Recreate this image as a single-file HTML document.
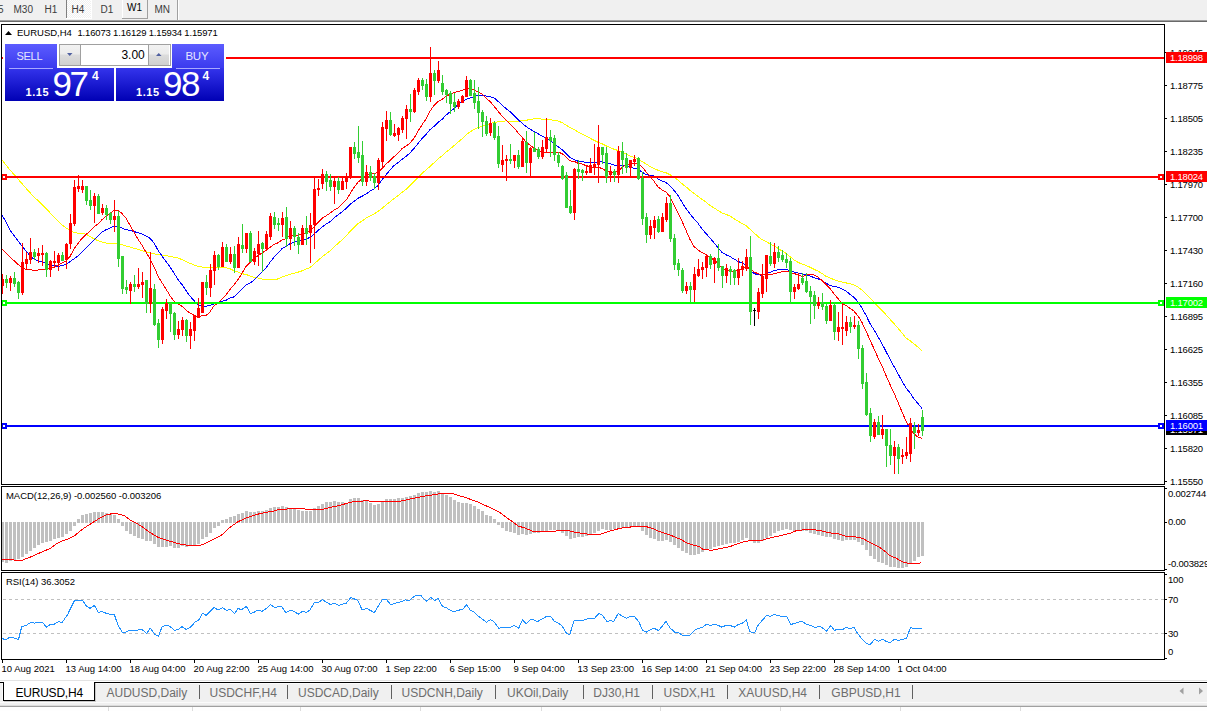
<!DOCTYPE html><html><head><meta charset="utf-8"><style>
html,body{margin:0;padding:0;background:#fff;}body{width:1207px;height:711px;overflow:hidden;position:relative;font-family:"Liberation Sans",sans-serif;}
svg{position:absolute;left:0;top:0;display:block}
.t{font-family:"Liberation Sans",sans-serif;font-size:10px;fill:#000}.ax{letter-spacing:-0.2px;font-size:9.5px}.tm{letter-spacing:0px;font-size:9.5px}.hd{letter-spacing:0px;font-size:9.5px}.hd2{letter-spacing:-0.17px;font-size:9.5px}.lb{letter-spacing:-0.05px;font-size:9.5px}
</style></head><body>
<svg width="1207" height="711" viewBox="0 0 1207 711">
<defs><pattern id="chk" width="2" height="2" patternUnits="userSpaceOnUse"><rect width="2" height="2" fill="#f0f0f0"/><rect width="1" height="1" fill="#fff"/><rect x="1" y="1" width="1" height="1" fill="#fff"/></pattern>
<linearGradient id="tabg" x1="0" y1="0" x2="0" y2="1"><stop offset="0" stop-color="#5c5cff"/><stop offset="1" stop-color="#3a3aee"/></linearGradient>
<linearGradient id="boxg" x1="0" y1="0" x2="0" y2="1"><stop offset="0" stop-color="#3434ec"/><stop offset="1" stop-color="#0000b4"/></linearGradient>
<linearGradient id="spin" x1="0" y1="0" x2="0" y2="1"><stop offset="0" stop-color="#f2f2f2"/><stop offset="0.45" stop-color="#ebebeb"/><stop offset="0.5" stop-color="#dcdcdc"/><stop offset="1" stop-color="#d0d0d0"/></linearGradient>
</defs>
<rect x="0" y="0" width="1207" height="711" fill="#fff"/>
<g shape-rendering="crispEdges">
<rect x="0" y="0" width="1207" height="20" fill="#f0f0f0"/>
<rect x="0" y="20" width="1207" height="1" fill="#a0a0a0"/>
<rect x="0" y="21" width="1207" height="1" fill="#696969"/>
<rect x="67" y="0" width="24" height="18" fill="url(#chk)"/>
<rect x="66" y="0" width="1" height="18" fill="#808080"/>
<rect x="66" y="18" width="26" height="1" fill="#fff"/>
<rect x="91" y="0" width="1" height="18" fill="#fff"/>
<rect x="122" y="0" width="1" height="18" fill="#fff"/>
<rect x="147" y="0" width="1" height="19" fill="#a0a0a0"/>
<rect x="122" y="18" width="26" height="1" fill="#a0a0a0"/>
<rect x="177" y="0" width="1" height="20" fill="#a0a0a0"/>
<rect x="178" y="0" width="1" height="20" fill="#fff"/>
</g>
<text class="t" x="-2" y="12.5" style="fill:#3c3c3c;font-size:10px">5</text>
<text class="t" x="13.5" y="12.5" style="fill:#3c3c3c;font-size:10px">M30</text>
<text class="t" x="44.5" y="12.5" style="fill:#3c3c3c;font-size:10px">H1</text>
<text class="t" x="71.5" y="12.5" style="fill:#3c3c3c;font-size:10px">H4</text>
<text class="t" x="100.5" y="12.5" style="fill:#3c3c3c;font-size:10px">D1</text>
<text class="t" x="154.5" y="12.5" style="fill:#3c3c3c;font-size:10px">MN</text>
<text class="t" x="127" y="11" style="fill:#000;font-size:10px">W1</text>
<g shape-rendering="crispEdges" fill="none" stroke="#000" stroke-width="1">
<rect x="1.5" y="24.5" width="1163" height="460"/>
<rect x="1.5" y="486.5" width="1163" height="84"/>
<rect x="1.5" y="572.5" width="1163" height="87"/>
</g>
<g fill="none" stroke-width="1" shape-rendering="crispEdges">
<polyline points="2.0,160.0 6.0,165.0 10.0,170.0 14.0,174.5 18.0,179.1 22.0,183.6 26.0,188.2 30.0,192.7 34.0,196.9 38.0,200.6 42.0,204.5 46.0,208.6 50.0,212.7 54.0,216.8 58.0,220.9 62.0,225.0 66.0,227.9 70.0,230.3 74.0,232.8 78.0,233.1 82.0,233.4 86.0,234.2 90.0,236.5 94.0,238.8 98.0,240.7 102.0,242.0 106.0,243.1 110.0,243.5 114.0,243.8 118.0,244.1 122.0,244.8 126.0,245.9 130.0,247.0 134.0,248.2 138.0,249.4 142.0,250.6 146.0,251.8 150.0,253.0 154.0,253.8 158.0,254.4 162.0,255.2 166.0,255.7 170.0,256.3 174.0,257.2 178.0,258.1 182.0,259.6 186.0,261.5 190.0,263.4 194.0,264.9 198.0,266.3 202.0,267.0 206.0,267.5 210.0,267.7 214.0,267.5 218.0,267.8 222.0,267.5 226.0,267.9 230.0,268.7 234.0,270.7 238.0,272.1 242.0,273.7 246.0,274.5 250.0,275.9 254.0,277.3 258.0,278.1 262.0,279.1 266.0,279.6 270.0,279.5 274.0,279.7 278.0,278.9 282.0,277.1 286.0,275.8 290.0,274.4 294.0,273.2 298.0,272.2 302.0,270.8 306.0,269.1 310.0,267.5 314.0,264.1 318.0,260.4 322.0,257.0 326.0,253.9 330.0,250.8 334.0,247.0 338.0,243.5 342.0,240.0 346.0,236.0 350.0,231.5 354.0,227.4 358.0,223.6 362.0,221.1 366.0,218.2 370.0,215.9 374.0,214.1 378.0,211.4 382.0,208.4 386.0,204.9 390.0,201.9 394.0,198.6 398.0,195.7 402.0,192.4 406.0,189.4 410.0,185.6 414.0,181.6 418.0,177.5 422.0,173.4 426.0,170.0 430.0,166.4 434.0,162.8 438.0,158.9 442.0,155.8 446.0,152.2 450.0,149.0 454.0,145.7 458.0,142.2 462.0,138.9 466.0,135.1 470.0,131.8 474.0,129.6 478.0,127.7 482.0,126.4 486.0,125.2 490.0,123.6 494.0,122.5 498.0,121.9 502.0,121.4 506.0,120.9 510.0,121.2 514.0,121.3 518.0,121.5 522.0,120.5 526.0,120.3 530.0,119.5 534.0,118.8 538.0,118.6 542.0,119.1 546.0,119.6 550.0,119.7 554.0,120.2 558.0,121.1 562.0,122.6 566.0,125.0 570.0,127.5 574.0,129.5 578.0,131.8 582.0,134.0 586.0,135.9 590.0,138.2 594.0,140.3 598.0,142.2 602.0,143.8 606.0,145.8 610.0,147.5 614.0,149.2 618.0,150.5 622.0,152.1 626.0,154.2 630.0,155.9 634.0,157.3 638.0,158.9 642.0,161.4 646.0,163.9 650.0,166.4 654.0,168.5 658.0,170.2 662.0,171.7 666.0,172.8 670.0,174.7 674.0,177.4 678.0,180.0 682.0,183.7 686.0,186.8 690.0,190.3 694.0,193.4 698.0,196.3 702.0,199.3 706.0,202.2 710.0,205.3 714.0,207.9 718.0,210.5 722.0,212.9 726.0,214.5 730.0,215.9 734.0,218.6 738.0,221.1 742.0,223.5 746.0,225.6 750.0,229.2 754.0,232.9 758.0,236.5 762.0,239.6 766.0,241.6 770.0,243.9 774.0,245.8 778.0,248.4 782.0,250.9 786.0,253.3 790.0,256.6 794.0,259.8 798.0,262.4 802.0,264.0 806.0,265.5 810.0,267.2 814.0,269.3 818.0,271.1 822.0,273.4 826.0,276.3 830.0,277.9 834.0,279.6 838.0,281.1 842.0,282.0 846.0,282.9 850.0,283.8 854.0,285.1 858.0,287.1 862.0,290.0 866.0,293.9 870.0,298.2 874.0,302.3 878.0,306.5 882.0,310.3 886.0,314.7 890.0,319.3 894.0,323.6 898.0,328.3 902.0,333.0 906.0,337.9 910.0,340.7 914.0,343.8 918.0,347.2 922.0,351.0" stroke="#ffff00"/>
<polyline points="2.0,215.0 6.0,222.0 10.0,230.0 14.0,235.4 18.0,240.9 22.0,246.3 26.0,250.9 30.0,255.6 34.0,259.2 38.0,260.6 42.0,261.9 46.0,263.3 50.0,264.7 54.0,265.5 58.0,266.3 62.0,265.7 66.0,264.5 70.0,261.7 74.0,258.8 78.0,256.0 82.0,252.1 86.0,247.9 90.0,243.8 94.0,239.8 98.0,236.1 102.0,232.2 106.0,229.8 110.0,227.9 114.0,226.2 118.0,226.3 122.0,228.0 126.0,229.7 130.0,230.4 134.0,231.6 138.0,232.7 142.0,234.0 146.0,236.1 150.0,238.2 154.0,243.0 158.0,250.2 162.0,256.1 166.0,261.6 170.0,267.0 174.0,273.1 178.0,279.5 182.0,284.6 186.0,290.6 190.0,296.1 194.0,300.7 198.0,305.1 202.0,306.3 206.0,306.3 210.0,305.3 214.0,304.0 218.0,303.0 222.0,301.3 226.0,300.3 230.0,297.9 234.0,296.9 238.0,293.1 242.0,288.8 246.0,285.1 250.0,283.1 254.0,280.2 258.0,276.0 262.0,272.1 266.0,268.0 270.0,262.3 274.0,257.3 278.0,253.0 282.0,248.7 286.0,246.5 290.0,243.7 294.0,242.1 298.0,241.5 302.0,239.7 306.0,239.0 310.0,237.4 314.0,234.2 318.0,230.5 322.0,227.2 326.0,224.0 330.0,221.8 334.0,218.0 338.0,215.0 342.0,212.0 346.0,208.6 350.0,204.5 354.0,201.5 358.0,198.3 362.0,196.3 366.0,194.1 370.0,191.2 374.0,189.0 378.0,185.4 382.0,179.8 386.0,174.7 390.0,170.0 394.0,165.6 398.0,162.7 402.0,159.4 406.0,156.3 410.0,153.0 414.0,148.4 418.0,143.6 422.0,138.6 426.0,134.6 430.0,129.6 434.0,126.4 438.0,122.5 442.0,119.4 446.0,115.2 450.0,111.9 454.0,108.5 458.0,104.6 462.0,101.6 466.0,99.3 470.0,98.1 474.0,96.6 478.0,95.6 482.0,95.3 486.0,96.0 490.0,96.6 494.0,97.8 498.0,101.3 502.0,105.1 506.0,108.6 510.0,111.7 514.0,115.6 518.0,119.7 522.0,123.1 526.0,126.5 530.0,129.1 534.0,131.4 538.0,133.7 542.0,135.9 546.0,137.9 550.0,140.7 554.0,143.6 558.0,146.5 562.0,149.6 566.0,153.7 570.0,157.4 574.0,159.6 578.0,161.2 582.0,161.7 586.0,162.2 590.0,162.5 594.0,162.7 598.0,162.3 602.0,161.7 606.0,163.4 610.0,163.8 614.0,165.1 618.0,165.1 622.0,165.2 626.0,166.2 630.0,167.3 634.0,168.2 638.0,169.3 642.0,171.9 646.0,174.6 650.0,175.5 654.0,175.9 658.0,178.8 662.0,181.0 666.0,182.5 670.0,185.7 674.0,190.4 678.0,195.4 682.0,202.2 686.0,208.5 690.0,213.9 694.0,218.8 698.0,223.3 702.0,228.8 706.0,233.5 710.0,238.1 714.0,242.7 718.0,247.8 722.0,252.4 726.0,254.8 730.0,256.6 734.0,259.0 738.0,261.4 742.0,263.1 746.0,265.0 750.0,270.1 754.0,273.5 758.0,274.8 762.0,275.2 766.0,273.6 770.0,272.4 774.0,270.7 778.0,269.9 782.0,269.4 786.0,269.1 790.0,270.8 794.0,271.9 798.0,273.1 802.0,273.9 806.0,274.7 810.0,276.0 814.0,277.6 818.0,278.8 822.0,280.6 826.0,283.1 830.0,285.4 834.0,286.4 838.0,287.2 842.0,288.9 846.0,291.0 850.0,294.4 854.0,297.3 858.0,301.9 862.0,307.9 866.0,315.3 870.0,323.5 874.0,329.8 878.0,336.8 882.0,343.7 886.0,351.4 890.0,359.2 894.0,366.4 898.0,373.7 902.0,381.0 906.0,387.9 910.0,392.8 914.0,398.9 918.0,403.6 922.0,408.5" stroke="#0000ff"/>
<polyline points="2.0,248.9 6.0,252.9 10.0,256.8 14.0,260.7 18.0,264.4 22.0,267.5 26.0,269.4 30.0,269.8 34.0,270.2 38.0,270.0 42.0,269.7 46.0,269.3 50.0,268.2 54.0,266.9 58.0,265.1 62.0,263.2 66.0,260.8 70.0,256.5 74.0,249.0 78.0,243.5 82.0,238.4 86.0,234.6 90.0,231.0 94.0,226.9 98.0,224.0 102.0,219.7 106.0,216.4 110.0,213.3 114.0,210.5 118.0,210.3 122.0,213.5 126.0,218.3 130.0,225.2 134.0,232.3 138.0,239.3 142.0,245.2 146.0,252.2 150.0,258.8 154.0,266.7 158.0,276.0 162.0,282.8 166.0,288.9 170.0,295.8 174.0,301.2 178.0,304.1 182.0,306.3 186.0,310.0 190.0,313.1 194.0,315.3 198.0,317.2 202.0,315.7 206.0,315.7 210.0,311.8 214.0,305.9 218.0,302.8 222.0,298.8 226.0,295.1 230.0,289.4 234.0,284.9 238.0,279.5 242.0,273.3 246.0,266.4 250.0,262.5 254.0,258.4 258.0,255.7 262.0,252.9 266.0,250.3 270.0,247.4 274.0,244.4 278.0,242.8 282.0,239.8 286.0,238.6 290.0,235.9 294.0,235.3 298.0,235.0 302.0,234.7 306.0,232.7 310.0,230.8 314.0,226.9 318.0,222.6 322.0,218.3 326.0,215.9 330.0,213.2 334.0,210.1 338.0,208.0 342.0,203.9 346.0,200.3 350.0,193.9 354.0,187.4 358.0,182.3 362.0,178.7 366.0,174.9 370.0,174.0 374.0,173.6 378.0,172.6 382.0,168.7 386.0,164.0 390.0,160.7 394.0,156.7 398.0,152.9 402.0,148.7 406.0,146.0 410.0,143.1 414.0,138.3 418.0,131.1 422.0,124.8 426.0,119.0 430.0,111.2 434.0,105.5 438.0,101.4 442.0,99.3 446.0,96.4 450.0,94.2 454.0,92.6 458.0,91.4 462.0,90.5 466.0,88.3 470.0,88.6 474.0,90.1 478.0,92.1 482.0,94.0 486.0,98.2 490.0,101.3 494.0,106.1 498.0,111.2 502.0,115.9 506.0,120.0 510.0,123.9 514.0,127.8 518.0,132.7 522.0,137.1 526.0,141.9 530.0,145.2 534.0,147.9 538.0,150.4 542.0,151.4 546.0,152.4 550.0,152.6 554.0,152.0 558.0,152.2 562.0,153.5 566.0,156.8 570.0,160.9 574.0,161.2 578.0,163.3 582.0,164.0 586.0,165.6 590.0,166.7 594.0,167.3 598.0,167.3 602.0,168.4 606.0,171.0 610.0,172.2 614.0,173.1 618.0,171.2 622.0,167.7 626.0,164.5 630.0,163.9 634.0,163.0 638.0,163.5 642.0,166.8 646.0,171.7 650.0,176.1 654.0,181.3 658.0,186.8 662.0,189.8 666.0,192.1 670.0,196.6 674.0,204.7 678.0,212.6 682.0,221.3 686.0,230.3 690.0,239.6 694.0,246.4 698.0,250.1 702.0,252.5 706.0,254.6 710.0,257.8 714.0,259.7 718.0,263.2 722.0,268.3 726.0,270.5 730.0,271.0 734.0,271.5 738.0,270.1 742.0,268.7 746.0,266.4 750.0,269.0 754.0,271.9 758.0,273.7 762.0,275.2 766.0,274.6 770.0,274.9 774.0,273.8 778.0,272.6 782.0,271.9 786.0,271.3 790.0,272.3 794.0,273.5 798.0,274.8 802.0,276.6 806.0,275.2 810.0,274.2 814.0,275.1 818.0,277.0 822.0,280.6 826.0,284.7 830.0,288.5 834.0,293.8 838.0,298.6 842.0,303.3 846.0,305.5 850.0,308.3 854.0,311.2 858.0,316.0 862.0,322.5 866.0,330.9 870.0,340.2 874.0,348.7 878.0,357.8 882.0,365.6 886.0,375.6 890.0,384.5 894.0,393.0 898.0,402.3 902.0,411.9 906.0,420.9 910.0,427.9 914.0,433.9 918.0,437.2 922.0,438.4" stroke="#ff0000"/>
</g>
<g shape-rendering="crispEdges">
<rect x="2" y="57" width="1162" height="2" fill="#ff0000"/>
<rect x="2" y="176" width="1162" height="2" fill="#ff0000"/>
<rect x="2" y="302" width="1162" height="2" fill="#00ff00"/>
<rect x="2" y="425" width="1162" height="2" fill="#0000ff"/>
<rect x="1" y="174" width="6" height="6" fill="#ff0000"/><rect x="3" y="176" width="2" height="2" fill="#fff"/>
<rect x="1158" y="174" width="6" height="6" fill="#ff0000"/><rect x="1160" y="176" width="2" height="2" fill="#fff"/>
<rect x="1" y="300" width="6" height="6" fill="#00ff00"/><rect x="3" y="302" width="2" height="2" fill="#fff"/>
<rect x="1158" y="300" width="6" height="6" fill="#00ff00"/><rect x="1160" y="302" width="2" height="2" fill="#fff"/>
<rect x="1" y="423" width="6" height="6" fill="#0000ff"/><rect x="3" y="425" width="2" height="2" fill="#fff"/>
<rect x="1158" y="423" width="6" height="6" fill="#0000ff"/><rect x="1160" y="425" width="2" height="2" fill="#fff"/>
</g>
<g shape-rendering="crispEdges">
<rect x="2" y="274" width="1" height="20" fill="#ff0000"/>
<rect x="1" y="279" width="3" height="7" fill="#ff0000"/>
<rect x="6" y="275" width="1" height="13" fill="#32cd32"/>
<rect x="5" y="279" width="3" height="4" fill="#32cd32"/>
<rect x="10" y="276" width="1" height="15" fill="#ff0000"/>
<rect x="9" y="278" width="3" height="5" fill="#ff0000"/>
<rect x="14" y="272" width="1" height="15" fill="#32cd32"/>
<rect x="13" y="278" width="3" height="6" fill="#32cd32"/>
<rect x="18" y="281" width="1" height="18" fill="#32cd32"/>
<rect x="17" y="282" width="3" height="11" fill="#32cd32"/>
<rect x="22" y="243" width="1" height="52" fill="#ff0000"/>
<rect x="21" y="262" width="3" height="31" fill="#ff0000"/>
<rect x="26" y="252" width="1" height="18" fill="#ff0000"/>
<rect x="25" y="259" width="3" height="5" fill="#ff0000"/>
<rect x="30" y="238" width="1" height="26" fill="#ff0000"/>
<rect x="29" y="252" width="3" height="8" fill="#ff0000"/>
<rect x="34" y="249" width="1" height="11" fill="#32cd32"/>
<rect x="33" y="252" width="3" height="5" fill="#32cd32"/>
<rect x="38" y="248" width="1" height="15" fill="#ff0000"/>
<rect x="37" y="253" width="3" height="3" fill="#ff0000"/>
<rect x="42" y="245" width="1" height="21" fill="#ff0000"/>
<rect x="41" y="253" width="3" height="2" fill="#ff0000"/>
<rect x="46" y="252" width="1" height="25" fill="#32cd32"/>
<rect x="45" y="253" width="3" height="17" fill="#32cd32"/>
<rect x="50" y="260" width="1" height="17" fill="#ff0000"/>
<rect x="49" y="261" width="3" height="9" fill="#ff0000"/>
<rect x="54" y="251" width="1" height="17" fill="#ff0000"/>
<rect x="53" y="261" width="3" height="2" fill="#ff0000"/>
<rect x="58" y="253" width="1" height="18" fill="#ff0000"/>
<rect x="57" y="255" width="3" height="8" fill="#ff0000"/>
<rect x="62" y="252" width="1" height="9" fill="#32cd32"/>
<rect x="61" y="255" width="3" height="6" fill="#32cd32"/>
<rect x="66" y="243" width="1" height="26" fill="#ff0000"/>
<rect x="65" y="244" width="3" height="16" fill="#ff0000"/>
<rect x="70" y="214" width="1" height="35" fill="#ff0000"/>
<rect x="69" y="223" width="3" height="21" fill="#ff0000"/>
<rect x="74" y="180" width="1" height="46" fill="#ff0000"/>
<rect x="73" y="187" width="3" height="37" fill="#ff0000"/>
<rect x="78" y="175" width="1" height="17" fill="#ff0000"/>
<rect x="77" y="186" width="3" height="3" fill="#ff0000"/>
<rect x="82" y="180" width="1" height="13" fill="#ff0000"/>
<rect x="81" y="186" width="3" height="4" fill="#ff0000"/>
<rect x="86" y="186" width="1" height="19" fill="#32cd32"/>
<rect x="85" y="186" width="3" height="15" fill="#32cd32"/>
<rect x="90" y="190" width="1" height="20" fill="#32cd32"/>
<rect x="89" y="200" width="3" height="6" fill="#32cd32"/>
<rect x="94" y="193" width="1" height="30" fill="#ff0000"/>
<rect x="93" y="196" width="3" height="10" fill="#ff0000"/>
<rect x="98" y="194" width="1" height="20" fill="#32cd32"/>
<rect x="97" y="196" width="3" height="18" fill="#32cd32"/>
<rect x="102" y="204" width="1" height="11" fill="#ff0000"/>
<rect x="101" y="208" width="3" height="5" fill="#ff0000"/>
<rect x="106" y="205" width="1" height="15" fill="#32cd32"/>
<rect x="105" y="208" width="3" height="7" fill="#32cd32"/>
<rect x="110" y="212" width="1" height="12" fill="#32cd32"/>
<rect x="109" y="213" width="3" height="7" fill="#32cd32"/>
<rect x="114" y="200" width="1" height="32" fill="#ff0000"/>
<rect x="113" y="216" width="3" height="4" fill="#ff0000"/>
<rect x="118" y="211" width="1" height="56" fill="#32cd32"/>
<rect x="117" y="216" width="3" height="43" fill="#32cd32"/>
<rect x="122" y="256" width="1" height="38" fill="#32cd32"/>
<rect x="121" y="256" width="3" height="33" fill="#32cd32"/>
<rect x="126" y="280" width="1" height="14" fill="#32cd32"/>
<rect x="125" y="287" width="3" height="3" fill="#32cd32"/>
<rect x="130" y="282" width="1" height="22" fill="#ff0000"/>
<rect x="129" y="284" width="3" height="7" fill="#ff0000"/>
<rect x="134" y="275" width="1" height="17" fill="#32cd32"/>
<rect x="133" y="284" width="3" height="3" fill="#32cd32"/>
<rect x="138" y="268" width="1" height="21" fill="#ff0000"/>
<rect x="137" y="284" width="3" height="3" fill="#ff0000"/>
<rect x="142" y="272" width="1" height="26" fill="#ff0000"/>
<rect x="141" y="282" width="3" height="3" fill="#ff0000"/>
<rect x="146" y="280" width="1" height="33" fill="#32cd32"/>
<rect x="145" y="280" width="3" height="24" fill="#32cd32"/>
<rect x="150" y="252" width="1" height="61" fill="#ff0000"/>
<rect x="149" y="288" width="3" height="16" fill="#ff0000"/>
<rect x="154" y="284" width="1" height="42" fill="#32cd32"/>
<rect x="153" y="289" width="3" height="36" fill="#32cd32"/>
<rect x="158" y="319" width="1" height="29" fill="#32cd32"/>
<rect x="157" y="323" width="3" height="17" fill="#32cd32"/>
<rect x="162" y="307" width="1" height="37" fill="#ff0000"/>
<rect x="161" y="309" width="3" height="31" fill="#ff0000"/>
<rect x="166" y="299" width="1" height="20" fill="#ff0000"/>
<rect x="165" y="303" width="3" height="8" fill="#ff0000"/>
<rect x="170" y="303" width="1" height="29" fill="#32cd32"/>
<rect x="169" y="303" width="3" height="11" fill="#32cd32"/>
<rect x="174" y="312" width="1" height="28" fill="#32cd32"/>
<rect x="173" y="313" width="3" height="22" fill="#32cd32"/>
<rect x="178" y="321" width="1" height="18" fill="#ff0000"/>
<rect x="177" y="329" width="3" height="6" fill="#ff0000"/>
<rect x="182" y="317" width="1" height="19" fill="#ff0000"/>
<rect x="181" y="320" width="3" height="10" fill="#ff0000"/>
<rect x="186" y="319" width="1" height="23" fill="#32cd32"/>
<rect x="185" y="320" width="3" height="16" fill="#32cd32"/>
<rect x="190" y="322" width="1" height="27" fill="#ff0000"/>
<rect x="189" y="329" width="3" height="7" fill="#ff0000"/>
<rect x="194" y="315" width="1" height="26" fill="#ff0000"/>
<rect x="193" y="315" width="3" height="16" fill="#ff0000"/>
<rect x="198" y="298" width="1" height="20" fill="#ff0000"/>
<rect x="197" y="308" width="3" height="10" fill="#ff0000"/>
<rect x="202" y="282" width="1" height="31" fill="#ff0000"/>
<rect x="201" y="282" width="3" height="31" fill="#ff0000"/>
<rect x="206" y="275" width="1" height="20" fill="#32cd32"/>
<rect x="205" y="282" width="3" height="6" fill="#32cd32"/>
<rect x="210" y="264" width="1" height="33" fill="#ff0000"/>
<rect x="209" y="270" width="3" height="18" fill="#ff0000"/>
<rect x="214" y="251" width="1" height="34" fill="#ff0000"/>
<rect x="213" y="255" width="3" height="16" fill="#ff0000"/>
<rect x="218" y="254" width="1" height="16" fill="#32cd32"/>
<rect x="217" y="255" width="3" height="12" fill="#32cd32"/>
<rect x="222" y="242" width="1" height="25" fill="#ff0000"/>
<rect x="221" y="247" width="3" height="20" fill="#ff0000"/>
<rect x="226" y="244" width="1" height="18" fill="#32cd32"/>
<rect x="225" y="247" width="3" height="15" fill="#32cd32"/>
<rect x="230" y="247" width="1" height="17" fill="#ff0000"/>
<rect x="229" y="254" width="3" height="8" fill="#ff0000"/>
<rect x="234" y="246" width="1" height="27" fill="#32cd32"/>
<rect x="233" y="254" width="3" height="14" fill="#32cd32"/>
<rect x="238" y="237" width="1" height="31" fill="#ff0000"/>
<rect x="237" y="244" width="3" height="24" fill="#ff0000"/>
<rect x="242" y="224" width="1" height="29" fill="#32cd32"/>
<rect x="241" y="245" width="3" height="4" fill="#32cd32"/>
<rect x="246" y="233" width="1" height="20" fill="#ff0000"/>
<rect x="245" y="233" width="3" height="16" fill="#ff0000"/>
<rect x="250" y="231" width="1" height="31" fill="#32cd32"/>
<rect x="249" y="233" width="3" height="29" fill="#32cd32"/>
<rect x="254" y="248" width="1" height="17" fill="#ff0000"/>
<rect x="253" y="251" width="3" height="11" fill="#ff0000"/>
<rect x="258" y="231" width="1" height="35" fill="#ff0000"/>
<rect x="257" y="244" width="3" height="10" fill="#ff0000"/>
<rect x="262" y="242" width="1" height="30" fill="#32cd32"/>
<rect x="261" y="243" width="3" height="6" fill="#32cd32"/>
<rect x="266" y="231" width="1" height="19" fill="#ff0000"/>
<rect x="265" y="234" width="3" height="15" fill="#ff0000"/>
<rect x="270" y="213" width="1" height="27" fill="#ff0000"/>
<rect x="269" y="216" width="3" height="21" fill="#ff0000"/>
<rect x="274" y="212" width="1" height="17" fill="#32cd32"/>
<rect x="273" y="217" width="3" height="8" fill="#32cd32"/>
<rect x="278" y="218" width="1" height="13" fill="#32cd32"/>
<rect x="277" y="223" width="3" height="2" fill="#32cd32"/>
<rect x="282" y="212" width="1" height="25" fill="#ff0000"/>
<rect x="281" y="218" width="3" height="7" fill="#ff0000"/>
<rect x="286" y="207" width="1" height="40" fill="#32cd32"/>
<rect x="285" y="217" width="3" height="22" fill="#32cd32"/>
<rect x="290" y="221" width="1" height="29" fill="#ff0000"/>
<rect x="289" y="228" width="3" height="11" fill="#ff0000"/>
<rect x="294" y="226" width="1" height="20" fill="#32cd32"/>
<rect x="293" y="228" width="3" height="9" fill="#32cd32"/>
<rect x="298" y="233" width="1" height="21" fill="#32cd32"/>
<rect x="297" y="237" width="3" height="8" fill="#32cd32"/>
<rect x="302" y="225" width="1" height="20" fill="#ff0000"/>
<rect x="301" y="228" width="3" height="17" fill="#ff0000"/>
<rect x="306" y="216" width="1" height="29" fill="#32cd32"/>
<rect x="305" y="228" width="3" height="6" fill="#32cd32"/>
<rect x="310" y="213" width="1" height="50" fill="#ff0000"/>
<rect x="309" y="225" width="3" height="8" fill="#ff0000"/>
<rect x="314" y="178" width="1" height="71" fill="#ff0000"/>
<rect x="313" y="189" width="3" height="36" fill="#ff0000"/>
<rect x="318" y="179" width="1" height="17" fill="#ff0000"/>
<rect x="317" y="188" width="3" height="2" fill="#ff0000"/>
<rect x="322" y="169" width="1" height="20" fill="#ff0000"/>
<rect x="321" y="174" width="3" height="10" fill="#ff0000"/>
<rect x="326" y="171" width="1" height="20" fill="#32cd32"/>
<rect x="325" y="174" width="3" height="8" fill="#32cd32"/>
<rect x="330" y="174" width="1" height="17" fill="#32cd32"/>
<rect x="329" y="180" width="3" height="7" fill="#32cd32"/>
<rect x="334" y="178" width="1" height="26" fill="#ff0000"/>
<rect x="333" y="181" width="3" height="6" fill="#ff0000"/>
<rect x="338" y="177" width="1" height="17" fill="#32cd32"/>
<rect x="337" y="181" width="3" height="9" fill="#32cd32"/>
<rect x="342" y="178" width="1" height="12" fill="#ff0000"/>
<rect x="341" y="181" width="3" height="9" fill="#ff0000"/>
<rect x="346" y="173" width="1" height="16" fill="#ff0000"/>
<rect x="345" y="177" width="3" height="5" fill="#ff0000"/>
<rect x="350" y="147" width="1" height="32" fill="#ff0000"/>
<rect x="349" y="147" width="3" height="31" fill="#ff0000"/>
<rect x="354" y="142" width="1" height="17" fill="#32cd32"/>
<rect x="353" y="147" width="3" height="7" fill="#32cd32"/>
<rect x="358" y="126" width="1" height="37" fill="#32cd32"/>
<rect x="357" y="152" width="3" height="6" fill="#32cd32"/>
<rect x="362" y="141" width="1" height="45" fill="#32cd32"/>
<rect x="361" y="155" width="3" height="27" fill="#32cd32"/>
<rect x="366" y="165" width="1" height="21" fill="#ff0000"/>
<rect x="365" y="172" width="3" height="10" fill="#ff0000"/>
<rect x="370" y="166" width="1" height="15" fill="#32cd32"/>
<rect x="369" y="172" width="3" height="6" fill="#32cd32"/>
<rect x="374" y="173" width="1" height="16" fill="#32cd32"/>
<rect x="373" y="176" width="3" height="7" fill="#32cd32"/>
<rect x="378" y="158" width="1" height="32" fill="#ff0000"/>
<rect x="377" y="160" width="3" height="23" fill="#ff0000"/>
<rect x="382" y="122" width="1" height="45" fill="#ff0000"/>
<rect x="381" y="127" width="3" height="35" fill="#ff0000"/>
<rect x="386" y="111" width="1" height="30" fill="#ff0000"/>
<rect x="385" y="120" width="3" height="9" fill="#ff0000"/>
<rect x="390" y="112" width="1" height="24" fill="#32cd32"/>
<rect x="389" y="120" width="3" height="15" fill="#32cd32"/>
<rect x="394" y="124" width="1" height="13" fill="#ff0000"/>
<rect x="393" y="133" width="3" height="3" fill="#ff0000"/>
<rect x="398" y="127" width="1" height="14" fill="#ff0000"/>
<rect x="397" y="128" width="3" height="7" fill="#ff0000"/>
<rect x="402" y="116" width="1" height="17" fill="#ff0000"/>
<rect x="401" y="118" width="3" height="12" fill="#ff0000"/>
<rect x="406" y="105" width="1" height="34" fill="#ff0000"/>
<rect x="405" y="109" width="3" height="10" fill="#ff0000"/>
<rect x="410" y="94" width="1" height="28" fill="#32cd32"/>
<rect x="409" y="109" width="3" height="3" fill="#32cd32"/>
<rect x="414" y="88" width="1" height="25" fill="#ff0000"/>
<rect x="413" y="90" width="3" height="22" fill="#ff0000"/>
<rect x="418" y="78" width="1" height="17" fill="#ff0000"/>
<rect x="417" y="80" width="3" height="12" fill="#ff0000"/>
<rect x="422" y="78" width="1" height="12" fill="#32cd32"/>
<rect x="421" y="80" width="3" height="6" fill="#32cd32"/>
<rect x="426" y="79" width="1" height="22" fill="#32cd32"/>
<rect x="425" y="84" width="3" height="13" fill="#32cd32"/>
<rect x="430" y="47" width="1" height="55" fill="#ff0000"/>
<rect x="429" y="73" width="3" height="24" fill="#ff0000"/>
<rect x="434" y="70" width="1" height="25" fill="#32cd32"/>
<rect x="433" y="73" width="3" height="8" fill="#32cd32"/>
<rect x="438" y="61" width="1" height="22" fill="#ff0000"/>
<rect x="437" y="70" width="3" height="11" fill="#ff0000"/>
<rect x="442" y="75" width="1" height="20" fill="#32cd32"/>
<rect x="441" y="83" width="3" height="9" fill="#32cd32"/>
<rect x="446" y="89" width="1" height="14" fill="#32cd32"/>
<rect x="445" y="90" width="3" height="5" fill="#32cd32"/>
<rect x="450" y="91" width="1" height="23" fill="#32cd32"/>
<rect x="449" y="93" width="3" height="11" fill="#32cd32"/>
<rect x="454" y="93" width="1" height="19" fill="#32cd32"/>
<rect x="453" y="102" width="3" height="5" fill="#32cd32"/>
<rect x="458" y="99" width="1" height="10" fill="#ff0000"/>
<rect x="457" y="101" width="3" height="6" fill="#ff0000"/>
<rect x="462" y="95" width="1" height="8" fill="#ff0000"/>
<rect x="461" y="96" width="3" height="7" fill="#ff0000"/>
<rect x="466" y="76" width="1" height="21" fill="#ff0000"/>
<rect x="465" y="80" width="3" height="17" fill="#ff0000"/>
<rect x="470" y="79" width="1" height="17" fill="#32cd32"/>
<rect x="469" y="80" width="3" height="16" fill="#32cd32"/>
<rect x="474" y="80" width="1" height="29" fill="#32cd32"/>
<rect x="473" y="93" width="3" height="10" fill="#32cd32"/>
<rect x="478" y="87" width="1" height="42" fill="#32cd32"/>
<rect x="477" y="101" width="3" height="12" fill="#32cd32"/>
<rect x="482" y="110" width="1" height="27" fill="#32cd32"/>
<rect x="481" y="112" width="3" height="10" fill="#32cd32"/>
<rect x="486" y="116" width="1" height="20" fill="#32cd32"/>
<rect x="485" y="121" width="3" height="13" fill="#32cd32"/>
<rect x="490" y="118" width="1" height="18" fill="#ff0000"/>
<rect x="489" y="123" width="3" height="10" fill="#ff0000"/>
<rect x="494" y="121" width="1" height="19" fill="#32cd32"/>
<rect x="493" y="123" width="3" height="15" fill="#32cd32"/>
<rect x="498" y="126" width="1" height="42" fill="#32cd32"/>
<rect x="497" y="136" width="3" height="28" fill="#32cd32"/>
<rect x="502" y="145" width="1" height="27" fill="#ff0000"/>
<rect x="501" y="160" width="3" height="5" fill="#ff0000"/>
<rect x="506" y="155" width="1" height="26" fill="#ff0000"/>
<rect x="505" y="159" width="3" height="2" fill="#ff0000"/>
<rect x="510" y="144" width="1" height="20" fill="#32cd32"/>
<rect x="509" y="159" width="3" height="2" fill="#32cd32"/>
<rect x="514" y="155" width="1" height="13" fill="#ff0000"/>
<rect x="513" y="155" width="3" height="6" fill="#ff0000"/>
<rect x="518" y="150" width="1" height="19" fill="#32cd32"/>
<rect x="517" y="155" width="3" height="12" fill="#32cd32"/>
<rect x="522" y="138" width="1" height="29" fill="#ff0000"/>
<rect x="521" y="141" width="3" height="26" fill="#ff0000"/>
<rect x="526" y="131" width="1" height="42" fill="#32cd32"/>
<rect x="525" y="142" width="3" height="21" fill="#32cd32"/>
<rect x="530" y="147" width="1" height="30" fill="#ff0000"/>
<rect x="529" y="148" width="3" height="15" fill="#ff0000"/>
<rect x="534" y="132" width="1" height="20" fill="#32cd32"/>
<rect x="533" y="148" width="3" height="4" fill="#32cd32"/>
<rect x="538" y="147" width="1" height="12" fill="#32cd32"/>
<rect x="537" y="149" width="3" height="8" fill="#32cd32"/>
<rect x="542" y="140" width="1" height="19" fill="#ff0000"/>
<rect x="541" y="147" width="3" height="10" fill="#ff0000"/>
<rect x="546" y="118" width="1" height="35" fill="#ff0000"/>
<rect x="545" y="137" width="3" height="12" fill="#ff0000"/>
<rect x="550" y="130" width="1" height="27" fill="#32cd32"/>
<rect x="549" y="137" width="3" height="4" fill="#32cd32"/>
<rect x="554" y="135" width="1" height="26" fill="#32cd32"/>
<rect x="553" y="138" width="3" height="17" fill="#32cd32"/>
<rect x="558" y="152" width="1" height="15" fill="#32cd32"/>
<rect x="557" y="155" width="3" height="8" fill="#32cd32"/>
<rect x="562" y="165" width="1" height="15" fill="#32cd32"/>
<rect x="561" y="166" width="3" height="13" fill="#32cd32"/>
<rect x="566" y="172" width="1" height="36" fill="#32cd32"/>
<rect x="565" y="175" width="3" height="33" fill="#32cd32"/>
<rect x="570" y="190" width="1" height="24" fill="#32cd32"/>
<rect x="569" y="206" width="3" height="7" fill="#32cd32"/>
<rect x="574" y="168" width="1" height="52" fill="#ff0000"/>
<rect x="573" y="169" width="3" height="44" fill="#ff0000"/>
<rect x="578" y="160" width="1" height="19" fill="#32cd32"/>
<rect x="577" y="169" width="3" height="3" fill="#32cd32"/>
<rect x="582" y="169" width="1" height="12" fill="#32cd32"/>
<rect x="581" y="170" width="3" height="3" fill="#32cd32"/>
<rect x="586" y="166" width="1" height="9" fill="#ff0000"/>
<rect x="585" y="171" width="3" height="2" fill="#ff0000"/>
<rect x="590" y="158" width="1" height="15" fill="#ff0000"/>
<rect x="589" y="165" width="3" height="8" fill="#ff0000"/>
<rect x="594" y="144" width="1" height="31" fill="#ff0000"/>
<rect x="593" y="164" width="3" height="3" fill="#ff0000"/>
<rect x="598" y="125" width="1" height="58" fill="#ff0000"/>
<rect x="597" y="147" width="3" height="18" fill="#ff0000"/>
<rect x="602" y="147" width="1" height="17" fill="#32cd32"/>
<rect x="601" y="147" width="3" height="8" fill="#32cd32"/>
<rect x="606" y="147" width="1" height="36" fill="#32cd32"/>
<rect x="605" y="153" width="3" height="24" fill="#32cd32"/>
<rect x="610" y="166" width="1" height="16" fill="#ff0000"/>
<rect x="609" y="171" width="3" height="4" fill="#ff0000"/>
<rect x="614" y="169" width="1" height="13" fill="#32cd32"/>
<rect x="613" y="171" width="3" height="4" fill="#32cd32"/>
<rect x="618" y="146" width="1" height="37" fill="#ff0000"/>
<rect x="617" y="151" width="3" height="24" fill="#ff0000"/>
<rect x="622" y="142" width="1" height="32" fill="#32cd32"/>
<rect x="621" y="151" width="3" height="9" fill="#32cd32"/>
<rect x="626" y="153" width="1" height="20" fill="#32cd32"/>
<rect x="625" y="158" width="3" height="10" fill="#32cd32"/>
<rect x="630" y="160" width="1" height="17" fill="#ff0000"/>
<rect x="629" y="160" width="3" height="8" fill="#ff0000"/>
<rect x="634" y="155" width="1" height="11" fill="#ff0000"/>
<rect x="633" y="159" width="3" height="3" fill="#ff0000"/>
<rect x="638" y="157" width="1" height="23" fill="#32cd32"/>
<rect x="637" y="158" width="3" height="21" fill="#32cd32"/>
<rect x="642" y="172" width="1" height="53" fill="#32cd32"/>
<rect x="641" y="178" width="3" height="41" fill="#32cd32"/>
<rect x="646" y="213" width="1" height="30" fill="#32cd32"/>
<rect x="645" y="217" width="3" height="18" fill="#32cd32"/>
<rect x="650" y="220" width="1" height="19" fill="#ff0000"/>
<rect x="649" y="226" width="3" height="9" fill="#ff0000"/>
<rect x="654" y="216" width="1" height="23" fill="#ff0000"/>
<rect x="653" y="220" width="3" height="8" fill="#ff0000"/>
<rect x="658" y="216" width="1" height="17" fill="#32cd32"/>
<rect x="657" y="219" width="3" height="13" fill="#32cd32"/>
<rect x="662" y="213" width="1" height="19" fill="#ff0000"/>
<rect x="661" y="217" width="3" height="15" fill="#ff0000"/>
<rect x="666" y="197" width="1" height="25" fill="#ff0000"/>
<rect x="665" y="203" width="3" height="17" fill="#ff0000"/>
<rect x="670" y="195" width="1" height="47" fill="#32cd32"/>
<rect x="669" y="203" width="3" height="36" fill="#32cd32"/>
<rect x="674" y="234" width="1" height="36" fill="#32cd32"/>
<rect x="673" y="238" width="3" height="27" fill="#32cd32"/>
<rect x="678" y="259" width="1" height="17" fill="#32cd32"/>
<rect x="677" y="263" width="3" height="7" fill="#32cd32"/>
<rect x="682" y="268" width="1" height="25" fill="#32cd32"/>
<rect x="681" y="270" width="3" height="21" fill="#32cd32"/>
<rect x="686" y="282" width="1" height="12" fill="#ff0000"/>
<rect x="685" y="286" width="3" height="5" fill="#ff0000"/>
<rect x="690" y="282" width="1" height="20" fill="#32cd32"/>
<rect x="689" y="286" width="3" height="4" fill="#32cd32"/>
<rect x="694" y="267" width="1" height="35" fill="#ff0000"/>
<rect x="693" y="274" width="3" height="16" fill="#ff0000"/>
<rect x="698" y="259" width="1" height="18" fill="#ff0000"/>
<rect x="697" y="269" width="3" height="7" fill="#ff0000"/>
<rect x="702" y="262" width="1" height="17" fill="#ff0000"/>
<rect x="701" y="267" width="3" height="3" fill="#ff0000"/>
<rect x="706" y="255" width="1" height="22" fill="#ff0000"/>
<rect x="705" y="256" width="3" height="12" fill="#ff0000"/>
<rect x="710" y="254" width="1" height="15" fill="#32cd32"/>
<rect x="709" y="256" width="3" height="9" fill="#32cd32"/>
<rect x="714" y="257" width="1" height="26" fill="#ff0000"/>
<rect x="713" y="258" width="3" height="6" fill="#ff0000"/>
<rect x="718" y="244" width="1" height="27" fill="#32cd32"/>
<rect x="717" y="258" width="3" height="10" fill="#32cd32"/>
<rect x="722" y="266" width="1" height="22" fill="#32cd32"/>
<rect x="721" y="266" width="3" height="10" fill="#32cd32"/>
<rect x="726" y="264" width="1" height="19" fill="#ff0000"/>
<rect x="725" y="268" width="3" height="8" fill="#ff0000"/>
<rect x="730" y="266" width="1" height="19" fill="#32cd32"/>
<rect x="729" y="269" width="3" height="3" fill="#32cd32"/>
<rect x="734" y="269" width="1" height="16" fill="#32cd32"/>
<rect x="733" y="270" width="3" height="8" fill="#32cd32"/>
<rect x="738" y="258" width="1" height="27" fill="#ff0000"/>
<rect x="737" y="269" width="3" height="9" fill="#ff0000"/>
<rect x="742" y="261" width="1" height="15" fill="#ff0000"/>
<rect x="741" y="266" width="3" height="4" fill="#ff0000"/>
<rect x="746" y="249" width="1" height="22" fill="#ff0000"/>
<rect x="745" y="257" width="3" height="12" fill="#ff0000"/>
<rect x="750" y="236" width="1" height="89" fill="#32cd32"/>
<rect x="749" y="257" width="3" height="55" fill="#32cd32"/>
<rect x="754" y="308" width="1" height="18" fill="#000000"/>
<rect x="753" y="310" width="3" height="1" fill="#000000"/>
<rect x="758" y="288" width="1" height="31" fill="#ff0000"/>
<rect x="757" y="292" width="3" height="20" fill="#ff0000"/>
<rect x="762" y="264" width="1" height="34" fill="#ff0000"/>
<rect x="761" y="276" width="3" height="18" fill="#ff0000"/>
<rect x="766" y="255" width="1" height="37" fill="#ff0000"/>
<rect x="765" y="255" width="3" height="24" fill="#ff0000"/>
<rect x="770" y="242" width="1" height="24" fill="#32cd32"/>
<rect x="769" y="256" width="3" height="8" fill="#32cd32"/>
<rect x="774" y="243" width="1" height="25" fill="#ff0000"/>
<rect x="773" y="252" width="3" height="12" fill="#ff0000"/>
<rect x="778" y="246" width="1" height="16" fill="#32cd32"/>
<rect x="777" y="252" width="3" height="6" fill="#32cd32"/>
<rect x="782" y="250" width="1" height="12" fill="#32cd32"/>
<rect x="781" y="255" width="3" height="5" fill="#32cd32"/>
<rect x="786" y="253" width="1" height="15" fill="#32cd32"/>
<rect x="785" y="259" width="3" height="4" fill="#32cd32"/>
<rect x="790" y="258" width="1" height="46" fill="#32cd32"/>
<rect x="789" y="261" width="3" height="31" fill="#32cd32"/>
<rect x="794" y="284" width="1" height="15" fill="#ff0000"/>
<rect x="793" y="287" width="3" height="5" fill="#ff0000"/>
<rect x="798" y="273" width="1" height="17" fill="#ff0000"/>
<rect x="797" y="284" width="3" height="5" fill="#ff0000"/>
<rect x="802" y="273" width="1" height="12" fill="#32cd32"/>
<rect x="801" y="278" width="3" height="5" fill="#32cd32"/>
<rect x="806" y="273" width="1" height="20" fill="#32cd32"/>
<rect x="805" y="281" width="3" height="11" fill="#32cd32"/>
<rect x="810" y="286" width="1" height="38" fill="#32cd32"/>
<rect x="809" y="291" width="3" height="6" fill="#32cd32"/>
<rect x="814" y="291" width="1" height="28" fill="#32cd32"/>
<rect x="813" y="295" width="3" height="11" fill="#32cd32"/>
<rect x="818" y="297" width="1" height="12" fill="#ff0000"/>
<rect x="817" y="302" width="3" height="4" fill="#ff0000"/>
<rect x="822" y="293" width="1" height="17" fill="#32cd32"/>
<rect x="821" y="302" width="3" height="5" fill="#32cd32"/>
<rect x="826" y="304" width="1" height="20" fill="#32cd32"/>
<rect x="825" y="306" width="3" height="15" fill="#32cd32"/>
<rect x="830" y="300" width="1" height="21" fill="#ff0000"/>
<rect x="829" y="305" width="3" height="16" fill="#ff0000"/>
<rect x="834" y="302" width="1" height="38" fill="#32cd32"/>
<rect x="833" y="305" width="3" height="27" fill="#32cd32"/>
<rect x="838" y="312" width="1" height="29" fill="#ff0000"/>
<rect x="837" y="327" width="3" height="5" fill="#ff0000"/>
<rect x="842" y="303" width="1" height="42" fill="#ff0000"/>
<rect x="841" y="327" width="3" height="2" fill="#ff0000"/>
<rect x="846" y="316" width="1" height="20" fill="#ff0000"/>
<rect x="845" y="322" width="3" height="9" fill="#ff0000"/>
<rect x="850" y="317" width="1" height="16" fill="#32cd32"/>
<rect x="849" y="322" width="3" height="5" fill="#32cd32"/>
<rect x="854" y="316" width="1" height="13" fill="#ff0000"/>
<rect x="853" y="325" width="3" height="2" fill="#ff0000"/>
<rect x="858" y="321" width="1" height="38" fill="#32cd32"/>
<rect x="857" y="325" width="3" height="24" fill="#32cd32"/>
<rect x="862" y="345" width="1" height="44" fill="#32cd32"/>
<rect x="861" y="348" width="3" height="36" fill="#32cd32"/>
<rect x="866" y="373" width="1" height="43" fill="#32cd32"/>
<rect x="865" y="382" width="3" height="33" fill="#32cd32"/>
<rect x="870" y="408" width="1" height="34" fill="#32cd32"/>
<rect x="869" y="413" width="3" height="23" fill="#32cd32"/>
<rect x="874" y="419" width="1" height="20" fill="#ff0000"/>
<rect x="873" y="422" width="3" height="15" fill="#ff0000"/>
<rect x="878" y="416" width="1" height="19" fill="#32cd32"/>
<rect x="877" y="422" width="3" height="13" fill="#32cd32"/>
<rect x="882" y="415" width="1" height="24" fill="#ff0000"/>
<rect x="881" y="429" width="3" height="6" fill="#ff0000"/>
<rect x="886" y="429" width="1" height="38" fill="#32cd32"/>
<rect x="885" y="429" width="3" height="17" fill="#32cd32"/>
<rect x="890" y="429" width="1" height="36" fill="#32cd32"/>
<rect x="889" y="445" width="3" height="11" fill="#32cd32"/>
<rect x="894" y="441" width="1" height="33" fill="#ff0000"/>
<rect x="893" y="447" width="3" height="9" fill="#ff0000"/>
<rect x="898" y="444" width="1" height="30" fill="#32cd32"/>
<rect x="897" y="447" width="3" height="12" fill="#32cd32"/>
<rect x="902" y="449" width="1" height="15" fill="#ff0000"/>
<rect x="901" y="455" width="3" height="2" fill="#ff0000"/>
<rect x="906" y="437" width="1" height="22" fill="#ff0000"/>
<rect x="905" y="452" width="3" height="4" fill="#ff0000"/>
<rect x="910" y="418" width="1" height="44" fill="#ff0000"/>
<rect x="909" y="423" width="3" height="31" fill="#ff0000"/>
<rect x="914" y="422" width="1" height="27" fill="#32cd32"/>
<rect x="913" y="427" width="3" height="6" fill="#32cd32"/>
<rect x="918" y="424" width="1" height="12" fill="#ff0000"/>
<rect x="917" y="430" width="3" height="3" fill="#ff0000"/>
<rect x="922" y="410" width="1" height="26" fill="#32cd32"/>
<rect x="921" y="417" width="3" height="14" fill="#32cd32"/>
</g>
<g shape-rendering="crispEdges">
<rect x="3" y="40" width="223" height="64" fill="#fff"/>
<rect x="2" y="57" width="1" height="2" fill="#ff0000"/>
<rect x="5" y="44" width="52" height="24" fill="url(#tabg)"/>
<rect x="5" y="68" width="109" height="33" fill="url(#boxg)"/>
<rect x="9" y="68" width="44" height="1" fill="#a8a8ff"/>
<rect x="172" y="44" width="52" height="24" fill="url(#tabg)"/>
<rect x="116" y="68" width="108" height="33" fill="url(#boxg)"/>
<rect x="176" y="68" width="44" height="1" fill="#a8a8ff"/>
<rect x="59" y="44" width="112" height="22" fill="#a0a0a0"/>
<rect x="60" y="45" width="110" height="20" fill="#fff"/>
<rect x="60" y="45" width="20" height="20" fill="url(#spin)"/>
<rect x="80" y="45" width="1" height="20" fill="#a0a0a0"/>
<rect x="149" y="45" width="20" height="20" fill="url(#spin)"/>
<rect x="148" y="45" width="1" height="20" fill="#a0a0a0"/>
</g>
<polygon points="67,53 72.5,53 69.75,56" fill="#5060a0"/>
<polygon points="156,56 161.5,56 158.75,53" fill="#5060a0"/>
<text x="16.5" y="60" style="font-family:'Liberation Sans', sans-serif;font-size:11px;letter-spacing:-0.3px;fill:#e6e6ff">SELL</text>
<text x="185.5" y="60" style="font-family:'Liberation Sans', sans-serif;font-size:11.5px;letter-spacing:-0.3px;fill:#e6e6ff">BUY</text>
<text x="144.8" y="59" text-anchor="end" style="font-family:'Liberation Sans', sans-serif;font-size:12px;fill:#000">3.00</text>
<text x="25.5" y="96" style="font-family:'Liberation Sans', sans-serif;font-size:11px;font-weight:bold;letter-spacing:0.6px;fill:#fff">1.15</text>
<text x="92" y="79.5" style="font-family:'Liberation Sans', sans-serif;font-size:12px;font-weight:bold;fill:#fff">4</text>
<text x="136.0" y="96" style="font-family:'Liberation Sans', sans-serif;font-size:11px;font-weight:bold;letter-spacing:0.6px;fill:#fff">1.15</text>
<text x="202.5" y="79.5" style="font-family:'Liberation Sans', sans-serif;font-size:12px;font-weight:bold;fill:#fff">4</text>
<text x="52.5" y="96" style="font-family:'Liberation Sans', sans-serif;font-size:35px;letter-spacing:-2.5px;fill:#fff">97</text>
<text x="163" y="96" style="font-family:'Liberation Sans', sans-serif;font-size:35px;letter-spacing:-1.5px;fill:#fff">98</text>
<polygon points="5,35 12,35 8.5,31" fill="#000"/>
<text class="t hd" x="17" y="36">EURUSD,H4</text>
<text class="t hd2" x="77.5" y="36">1.16073 1.16129 1.15934 1.15971</text>
<g shape-rendering="crispEdges">
<rect x="1165" y="52" width="2" height="1" fill="#000"/>
<rect x="1165" y="85" width="2" height="1" fill="#000"/>
<rect x="1165" y="118" width="2" height="1" fill="#000"/>
<rect x="1165" y="151" width="2" height="1" fill="#000"/>
<rect x="1165" y="184" width="2" height="1" fill="#000"/>
<rect x="1165" y="217" width="2" height="1" fill="#000"/>
<rect x="1165" y="250" width="2" height="1" fill="#000"/>
<rect x="1165" y="283" width="2" height="1" fill="#000"/>
<rect x="1165" y="316" width="2" height="1" fill="#000"/>
<rect x="1165" y="349" width="2" height="1" fill="#000"/>
<rect x="1165" y="382" width="2" height="1" fill="#000"/>
<rect x="1165" y="415" width="2" height="1" fill="#000"/>
<rect x="1165" y="448" width="2" height="1" fill="#000"/>
<rect x="1165" y="481" width="2" height="1" fill="#000"/>
</g>
<text class="t ax" x="1170" y="55.5">1.19045</text>
<text class="t ax" x="1170" y="88.5">1.18775</text>
<text class="t ax" x="1170" y="121.5">1.18505</text>
<text class="t ax" x="1170" y="154.5">1.18235</text>
<text class="t ax" x="1170" y="187.5">1.17970</text>
<text class="t ax" x="1170" y="220.5">1.17700</text>
<text class="t ax" x="1170" y="253.5">1.17430</text>
<text class="t ax" x="1170" y="286.5">1.17160</text>
<text class="t ax" x="1170" y="319.5">1.16895</text>
<text class="t ax" x="1170" y="352.5">1.16625</text>
<text class="t ax" x="1170" y="385.5">1.16355</text>
<text class="t ax" x="1170" y="418.5">1.16085</text>
<text class="t ax" x="1170" y="451.5">1.15820</text>
<text class="t ax" x="1170" y="484.5">1.15550</text>
<rect x="1166" y="52" width="41" height="11" fill="#ff0000" shape-rendering="crispEdges"/>
<text class="t ax" x="1170" y="60.5" style="fill:#fff">1.18998</text>
<rect x="1166" y="171" width="41" height="11" fill="#ff0000" shape-rendering="crispEdges"/>
<text class="t ax" x="1170" y="179.5" style="fill:#fff">1.18024</text>
<rect x="1166" y="297" width="41" height="11" fill="#00ff00" shape-rendering="crispEdges"/>
<text class="t ax" x="1170" y="305.5" style="fill:#fff">1.17002</text>
<rect x="1166" y="424" width="41" height="11" fill="#000000" shape-rendering="crispEdges"/>
<text class="t ax" x="1170" y="432.5" style="fill:#fff">1.15971</text>
<rect x="1166" y="420" width="41" height="11" fill="#0000ff" shape-rendering="crispEdges"/>
<text class="t ax" x="1170" y="428.5" style="fill:#fff">1.16001</text>
<g shape-rendering="crispEdges">
<rect x="1" y="522" width="3" height="40" fill="#c0c0c0"/>
<rect x="5" y="522" width="3" height="41" fill="#c0c0c0"/>
<rect x="9" y="522" width="3" height="39" fill="#c0c0c0"/>
<rect x="13" y="522" width="3" height="38" fill="#c0c0c0"/>
<rect x="17" y="522" width="3" height="37" fill="#c0c0c0"/>
<rect x="21" y="522" width="3" height="35" fill="#c0c0c0"/>
<rect x="25" y="522" width="3" height="32" fill="#c0c0c0"/>
<rect x="29" y="522" width="3" height="29" fill="#c0c0c0"/>
<rect x="33" y="522" width="3" height="26" fill="#c0c0c0"/>
<rect x="37" y="522" width="3" height="23" fill="#c0c0c0"/>
<rect x="41" y="522" width="3" height="21" fill="#c0c0c0"/>
<rect x="45" y="522" width="3" height="20" fill="#c0c0c0"/>
<rect x="49" y="522" width="3" height="19" fill="#c0c0c0"/>
<rect x="53" y="522" width="3" height="17" fill="#c0c0c0"/>
<rect x="57" y="522" width="3" height="16" fill="#c0c0c0"/>
<rect x="61" y="522" width="3" height="15" fill="#c0c0c0"/>
<rect x="65" y="522" width="3" height="12" fill="#c0c0c0"/>
<rect x="69" y="522" width="3" height="9" fill="#c0c0c0"/>
<rect x="73" y="522" width="3" height="4" fill="#c0c0c0"/>
<rect x="77" y="519" width="3" height="4" fill="#c0c0c0"/>
<rect x="81" y="515" width="3" height="8" fill="#c0c0c0"/>
<rect x="85" y="514" width="3" height="9" fill="#c0c0c0"/>
<rect x="89" y="513" width="3" height="10" fill="#c0c0c0"/>
<rect x="93" y="512" width="3" height="11" fill="#c0c0c0"/>
<rect x="97" y="512" width="3" height="11" fill="#c0c0c0"/>
<rect x="101" y="512" width="3" height="11" fill="#c0c0c0"/>
<rect x="105" y="513" width="3" height="10" fill="#c0c0c0"/>
<rect x="109" y="514" width="3" height="9" fill="#c0c0c0"/>
<rect x="113" y="515" width="3" height="8" fill="#c0c0c0"/>
<rect x="117" y="519" width="3" height="4" fill="#c0c0c0"/>
<rect x="121" y="522" width="3" height="4" fill="#c0c0c0"/>
<rect x="125" y="522" width="3" height="9" fill="#c0c0c0"/>
<rect x="129" y="522" width="3" height="12" fill="#c0c0c0"/>
<rect x="133" y="522" width="3" height="14" fill="#c0c0c0"/>
<rect x="137" y="522" width="3" height="16" fill="#c0c0c0"/>
<rect x="141" y="522" width="3" height="17" fill="#c0c0c0"/>
<rect x="145" y="522" width="3" height="19" fill="#c0c0c0"/>
<rect x="149" y="522" width="3" height="19" fill="#c0c0c0"/>
<rect x="153" y="522" width="3" height="22" fill="#c0c0c0"/>
<rect x="157" y="522" width="3" height="25" fill="#c0c0c0"/>
<rect x="161" y="522" width="3" height="25" fill="#c0c0c0"/>
<rect x="165" y="522" width="3" height="25" fill="#c0c0c0"/>
<rect x="169" y="522" width="3" height="24" fill="#c0c0c0"/>
<rect x="173" y="522" width="3" height="26" fill="#c0c0c0"/>
<rect x="177" y="522" width="3" height="26" fill="#c0c0c0"/>
<rect x="181" y="522" width="3" height="24" fill="#c0c0c0"/>
<rect x="185" y="522" width="3" height="25" fill="#c0c0c0"/>
<rect x="189" y="522" width="3" height="24" fill="#c0c0c0"/>
<rect x="193" y="522" width="3" height="24" fill="#c0c0c0"/>
<rect x="197" y="522" width="3" height="22" fill="#c0c0c0"/>
<rect x="201" y="522" width="3" height="17" fill="#c0c0c0"/>
<rect x="205" y="522" width="3" height="15" fill="#c0c0c0"/>
<rect x="209" y="522" width="3" height="11" fill="#c0c0c0"/>
<rect x="213" y="522" width="3" height="6" fill="#c0c0c0"/>
<rect x="217" y="522" width="3" height="4" fill="#c0c0c0"/>
<rect x="221" y="520" width="3" height="3" fill="#c0c0c0"/>
<rect x="225" y="519" width="3" height="4" fill="#c0c0c0"/>
<rect x="229" y="517" width="3" height="6" fill="#c0c0c0"/>
<rect x="233" y="516" width="3" height="7" fill="#c0c0c0"/>
<rect x="237" y="514" width="3" height="9" fill="#c0c0c0"/>
<rect x="241" y="513" width="3" height="10" fill="#c0c0c0"/>
<rect x="245" y="511" width="3" height="12" fill="#c0c0c0"/>
<rect x="249" y="512" width="3" height="11" fill="#c0c0c0"/>
<rect x="253" y="512" width="3" height="11" fill="#c0c0c0"/>
<rect x="257" y="511" width="3" height="12" fill="#c0c0c0"/>
<rect x="261" y="511" width="3" height="12" fill="#c0c0c0"/>
<rect x="265" y="510" width="3" height="13" fill="#c0c0c0"/>
<rect x="269" y="508" width="3" height="15" fill="#c0c0c0"/>
<rect x="273" y="507" width="3" height="16" fill="#c0c0c0"/>
<rect x="277" y="507" width="3" height="16" fill="#c0c0c0"/>
<rect x="281" y="506" width="3" height="17" fill="#c0c0c0"/>
<rect x="285" y="507" width="3" height="16" fill="#c0c0c0"/>
<rect x="289" y="508" width="3" height="15" fill="#c0c0c0"/>
<rect x="293" y="509" width="3" height="14" fill="#c0c0c0"/>
<rect x="297" y="510" width="3" height="13" fill="#c0c0c0"/>
<rect x="301" y="511" width="3" height="12" fill="#c0c0c0"/>
<rect x="305" y="511" width="3" height="12" fill="#c0c0c0"/>
<rect x="309" y="511" width="3" height="12" fill="#c0c0c0"/>
<rect x="313" y="508" width="3" height="15" fill="#c0c0c0"/>
<rect x="317" y="506" width="3" height="17" fill="#c0c0c0"/>
<rect x="321" y="504" width="3" height="19" fill="#c0c0c0"/>
<rect x="325" y="502" width="3" height="21" fill="#c0c0c0"/>
<rect x="329" y="502" width="3" height="21" fill="#c0c0c0"/>
<rect x="333" y="501" width="3" height="22" fill="#c0c0c0"/>
<rect x="337" y="502" width="3" height="21" fill="#c0c0c0"/>
<rect x="341" y="502" width="3" height="21" fill="#c0c0c0"/>
<rect x="345" y="503" width="3" height="20" fill="#c0c0c0"/>
<rect x="349" y="499" width="3" height="24" fill="#c0c0c0"/>
<rect x="353" y="498" width="3" height="25" fill="#c0c0c0"/>
<rect x="357" y="498" width="3" height="25" fill="#c0c0c0"/>
<rect x="361" y="500" width="3" height="23" fill="#c0c0c0"/>
<rect x="365" y="501" width="3" height="22" fill="#c0c0c0"/>
<rect x="369" y="503" width="3" height="20" fill="#c0c0c0"/>
<rect x="373" y="505" width="3" height="18" fill="#c0c0c0"/>
<rect x="377" y="504" width="3" height="19" fill="#c0c0c0"/>
<rect x="381" y="501" width="3" height="22" fill="#c0c0c0"/>
<rect x="385" y="499" width="3" height="24" fill="#c0c0c0"/>
<rect x="389" y="499" width="3" height="24" fill="#c0c0c0"/>
<rect x="393" y="499" width="3" height="24" fill="#c0c0c0"/>
<rect x="397" y="498" width="3" height="25" fill="#c0c0c0"/>
<rect x="401" y="498" width="3" height="25" fill="#c0c0c0"/>
<rect x="405" y="497" width="3" height="26" fill="#c0c0c0"/>
<rect x="409" y="496" width="3" height="27" fill="#c0c0c0"/>
<rect x="413" y="495" width="3" height="28" fill="#c0c0c0"/>
<rect x="417" y="493" width="3" height="30" fill="#c0c0c0"/>
<rect x="421" y="492" width="3" height="31" fill="#c0c0c0"/>
<rect x="425" y="492" width="3" height="31" fill="#c0c0c0"/>
<rect x="429" y="491" width="3" height="32" fill="#c0c0c0"/>
<rect x="433" y="492" width="3" height="31" fill="#c0c0c0"/>
<rect x="437" y="491" width="3" height="32" fill="#c0c0c0"/>
<rect x="441" y="494" width="3" height="29" fill="#c0c0c0"/>
<rect x="445" y="495" width="3" height="28" fill="#c0c0c0"/>
<rect x="449" y="497" width="3" height="26" fill="#c0c0c0"/>
<rect x="453" y="500" width="3" height="23" fill="#c0c0c0"/>
<rect x="457" y="502" width="3" height="21" fill="#c0c0c0"/>
<rect x="461" y="503" width="3" height="20" fill="#c0c0c0"/>
<rect x="465" y="503" width="3" height="20" fill="#c0c0c0"/>
<rect x="469" y="504" width="3" height="19" fill="#c0c0c0"/>
<rect x="473" y="506" width="3" height="17" fill="#c0c0c0"/>
<rect x="477" y="509" width="3" height="14" fill="#c0c0c0"/>
<rect x="481" y="511" width="3" height="12" fill="#c0c0c0"/>
<rect x="485" y="515" width="3" height="8" fill="#c0c0c0"/>
<rect x="489" y="516" width="3" height="7" fill="#c0c0c0"/>
<rect x="493" y="519" width="3" height="4" fill="#c0c0c0"/>
<rect x="497" y="522" width="3" height="3" fill="#c0c0c0"/>
<rect x="501" y="522" width="3" height="6" fill="#c0c0c0"/>
<rect x="505" y="522" width="3" height="9" fill="#c0c0c0"/>
<rect x="509" y="522" width="3" height="10" fill="#c0c0c0"/>
<rect x="513" y="522" width="3" height="11" fill="#c0c0c0"/>
<rect x="517" y="522" width="3" height="13" fill="#c0c0c0"/>
<rect x="521" y="522" width="3" height="12" fill="#c0c0c0"/>
<rect x="525" y="522" width="3" height="13" fill="#c0c0c0"/>
<rect x="529" y="522" width="3" height="12" fill="#c0c0c0"/>
<rect x="533" y="522" width="3" height="11" fill="#c0c0c0"/>
<rect x="537" y="522" width="3" height="11" fill="#c0c0c0"/>
<rect x="541" y="522" width="3" height="10" fill="#c0c0c0"/>
<rect x="545" y="522" width="3" height="9" fill="#c0c0c0"/>
<rect x="549" y="522" width="3" height="8" fill="#c0c0c0"/>
<rect x="553" y="522" width="3" height="8" fill="#c0c0c0"/>
<rect x="557" y="522" width="3" height="9" fill="#c0c0c0"/>
<rect x="561" y="522" width="3" height="11" fill="#c0c0c0"/>
<rect x="565" y="522" width="3" height="14" fill="#c0c0c0"/>
<rect x="569" y="522" width="3" height="17" fill="#c0c0c0"/>
<rect x="573" y="522" width="3" height="16" fill="#c0c0c0"/>
<rect x="577" y="522" width="3" height="15" fill="#c0c0c0"/>
<rect x="581" y="522" width="3" height="15" fill="#c0c0c0"/>
<rect x="585" y="522" width="3" height="14" fill="#c0c0c0"/>
<rect x="589" y="522" width="3" height="12" fill="#c0c0c0"/>
<rect x="593" y="522" width="3" height="11" fill="#c0c0c0"/>
<rect x="597" y="522" width="3" height="9" fill="#c0c0c0"/>
<rect x="601" y="522" width="3" height="7" fill="#c0c0c0"/>
<rect x="605" y="522" width="3" height="8" fill="#c0c0c0"/>
<rect x="609" y="522" width="3" height="8" fill="#c0c0c0"/>
<rect x="613" y="522" width="3" height="7" fill="#c0c0c0"/>
<rect x="617" y="522" width="3" height="6" fill="#c0c0c0"/>
<rect x="621" y="522" width="3" height="6" fill="#c0c0c0"/>
<rect x="625" y="522" width="3" height="6" fill="#c0c0c0"/>
<rect x="629" y="522" width="3" height="5" fill="#c0c0c0"/>
<rect x="633" y="522" width="3" height="4" fill="#c0c0c0"/>
<rect x="637" y="522" width="3" height="5" fill="#c0c0c0"/>
<rect x="641" y="522" width="3" height="9" fill="#c0c0c0"/>
<rect x="645" y="522" width="3" height="13" fill="#c0c0c0"/>
<rect x="649" y="522" width="3" height="16" fill="#c0c0c0"/>
<rect x="653" y="522" width="3" height="17" fill="#c0c0c0"/>
<rect x="657" y="522" width="3" height="19" fill="#c0c0c0"/>
<rect x="661" y="522" width="3" height="19" fill="#c0c0c0"/>
<rect x="665" y="522" width="3" height="18" fill="#c0c0c0"/>
<rect x="669" y="522" width="3" height="20" fill="#c0c0c0"/>
<rect x="673" y="522" width="3" height="23" fill="#c0c0c0"/>
<rect x="677" y="522" width="3" height="26" fill="#c0c0c0"/>
<rect x="681" y="522" width="3" height="29" fill="#c0c0c0"/>
<rect x="685" y="522" width="3" height="31" fill="#c0c0c0"/>
<rect x="689" y="522" width="3" height="33" fill="#c0c0c0"/>
<rect x="693" y="522" width="3" height="33" fill="#c0c0c0"/>
<rect x="697" y="522" width="3" height="32" fill="#c0c0c0"/>
<rect x="701" y="522" width="3" height="30" fill="#c0c0c0"/>
<rect x="705" y="522" width="3" height="28" fill="#c0c0c0"/>
<rect x="709" y="522" width="3" height="27" fill="#c0c0c0"/>
<rect x="713" y="522" width="3" height="25" fill="#c0c0c0"/>
<rect x="717" y="522" width="3" height="24" fill="#c0c0c0"/>
<rect x="721" y="522" width="3" height="23" fill="#c0c0c0"/>
<rect x="725" y="522" width="3" height="22" fill="#c0c0c0"/>
<rect x="729" y="522" width="3" height="21" fill="#c0c0c0"/>
<rect x="733" y="522" width="3" height="21" fill="#c0c0c0"/>
<rect x="737" y="522" width="3" height="20" fill="#c0c0c0"/>
<rect x="741" y="522" width="3" height="18" fill="#c0c0c0"/>
<rect x="745" y="522" width="3" height="16" fill="#c0c0c0"/>
<rect x="749" y="522" width="3" height="19" fill="#c0c0c0"/>
<rect x="753" y="522" width="3" height="21" fill="#c0c0c0"/>
<rect x="757" y="522" width="3" height="21" fill="#c0c0c0"/>
<rect x="761" y="522" width="3" height="19" fill="#c0c0c0"/>
<rect x="765" y="522" width="3" height="16" fill="#c0c0c0"/>
<rect x="769" y="522" width="3" height="14" fill="#c0c0c0"/>
<rect x="773" y="522" width="3" height="11" fill="#c0c0c0"/>
<rect x="777" y="522" width="3" height="9" fill="#c0c0c0"/>
<rect x="781" y="522" width="3" height="8" fill="#c0c0c0"/>
<rect x="785" y="522" width="3" height="7" fill="#c0c0c0"/>
<rect x="789" y="522" width="3" height="8" fill="#c0c0c0"/>
<rect x="793" y="522" width="3" height="9" fill="#c0c0c0"/>
<rect x="797" y="522" width="3" height="9" fill="#c0c0c0"/>
<rect x="801" y="522" width="3" height="9" fill="#c0c0c0"/>
<rect x="805" y="522" width="3" height="9" fill="#c0c0c0"/>
<rect x="809" y="522" width="3" height="11" fill="#c0c0c0"/>
<rect x="813" y="522" width="3" height="12" fill="#c0c0c0"/>
<rect x="817" y="522" width="3" height="13" fill="#c0c0c0"/>
<rect x="821" y="522" width="3" height="14" fill="#c0c0c0"/>
<rect x="825" y="522" width="3" height="15" fill="#c0c0c0"/>
<rect x="829" y="522" width="3" height="15" fill="#c0c0c0"/>
<rect x="833" y="522" width="3" height="17" fill="#c0c0c0"/>
<rect x="837" y="522" width="3" height="18" fill="#c0c0c0"/>
<rect x="841" y="522" width="3" height="19" fill="#c0c0c0"/>
<rect x="845" y="522" width="3" height="18" fill="#c0c0c0"/>
<rect x="849" y="522" width="3" height="18" fill="#c0c0c0"/>
<rect x="853" y="522" width="3" height="18" fill="#c0c0c0"/>
<rect x="857" y="522" width="3" height="20" fill="#c0c0c0"/>
<rect x="861" y="522" width="3" height="23" fill="#c0c0c0"/>
<rect x="865" y="522" width="3" height="28" fill="#c0c0c0"/>
<rect x="869" y="522" width="3" height="34" fill="#c0c0c0"/>
<rect x="873" y="522" width="3" height="37" fill="#c0c0c0"/>
<rect x="877" y="522" width="3" height="40" fill="#c0c0c0"/>
<rect x="881" y="522" width="3" height="41" fill="#c0c0c0"/>
<rect x="885" y="522" width="3" height="43" fill="#c0c0c0"/>
<rect x="889" y="522" width="3" height="45" fill="#c0c0c0"/>
<rect x="893" y="522" width="3" height="45" fill="#c0c0c0"/>
<rect x="897" y="522" width="3" height="46" fill="#c0c0c0"/>
<rect x="901" y="522" width="3" height="46" fill="#c0c0c0"/>
<rect x="905" y="522" width="3" height="45" fill="#c0c0c0"/>
<rect x="909" y="522" width="3" height="41" fill="#c0c0c0"/>
<rect x="913" y="522" width="3" height="39" fill="#c0c0c0"/>
<rect x="917" y="522" width="3" height="35" fill="#c0c0c0"/>
<rect x="921" y="522" width="3" height="34" fill="#c0c0c0"/>
</g>
<polyline points="2.0,559.6 22.0,560.3 30.0,557.2 40.0,552.8 50.0,548.5 56.0,544.1 62.0,541.0 68.0,539.1 75.0,535.4 80.0,531.1 87.0,526.1 93.0,522.4 99.0,518.6 106.0,514.9 112.0,513.7 118.0,513.9 124.0,515.5 130.0,519.9 137.0,523.6 143.0,527.3 150.0,532.5 158.0,537.3 165.0,539.8 174.0,542.3 180.0,544.1 188.0,545.4 200.0,545.4 205.0,543.5 215.0,538.5 222.0,534.8 230.0,527.3 238.0,521.7 246.0,518.0 255.0,514.9 265.0,512.4 273.0,511.2 280.0,509.3 290.0,508.9 296.0,508.5 304.0,508.7 306.0,509.2 323.0,509.2 330.0,507.4 340.0,505.3 350.0,502.4 355.0,501.2 362.0,501.2 365.0,500.3 370.0,501.2 400.0,501.2 405.0,500.3 410.0,499.0 418.0,497.4 425.0,496.0 432.0,495.0 440.0,493.7 452.0,493.5 458.0,495.3 465.0,497.4 472.0,499.9 478.0,501.9 485.0,505.3 492.0,508.4 500.0,512.7 505.0,516.4 512.0,521.4 518.0,526.0 525.0,528.0 532.0,531.0 540.0,532.0 545.0,531.4 555.0,531.4 558.0,530.1 568.0,530.5 575.0,532.2 580.0,533.0 590.0,534.5 600.0,534.2 610.0,531.1 620.0,528.3 630.0,527.1 635.0,526.1 645.0,526.3 652.0,528.3 660.0,531.7 670.0,535.0 680.0,539.1 688.0,543.5 700.0,547.0 703.0,549.5 712.0,550.3 720.0,548.5 730.0,546.6 740.0,542.9 745.0,541.4 752.0,540.4 763.0,540.0 770.0,537.9 780.0,535.8 790.0,533.3 797.0,530.4 805.0,529.8 812.0,529.6 820.0,530.4 828.0,532.6 840.0,534.2 846.0,536.3 855.0,536.7 863.0,538.5 868.0,541.6 874.0,544.6 880.0,547.6 885.0,551.3 890.0,555.6 896.0,558.1 900.0,560.6 904.0,562.7 910.0,563.3 919.0,563.3 921.0,562.5" fill="none" stroke="#ff0000" stroke-width="1" shape-rendering="crispEdges"/>
<text class="t lb" x="6" y="499">MACD(12,26,9) -0.002560 -0.003206</text>
<g shape-rendering="crispEdges">
<rect x="1165" y="488" width="2" height="1" fill="#000"/>
<rect x="1165" y="522" width="2" height="1" fill="#000"/>
<rect x="1165" y="569" width="2" height="1" fill="#000"/>
</g>
<text class="t ax" x="1168" y="496.5">0.002744</text>
<text class="t ax" x="1168" y="525">0.00</text>
<text class="t ax" x="1168" y="567">-0.003829</text>
<g shape-rendering="crispEdges">
<line x1="3" y1="599.5" x2="1164" y2="599.5" stroke="#c0c0c0" stroke-width="1" stroke-dasharray="3,3"/>
<line x1="3" y1="633.5" x2="1164" y2="633.5" stroke="#c0c0c0" stroke-width="1" stroke-dasharray="3,3"/>
</g>
<polyline points="1.9,638.5 5.6,639.7 9.9,637.2 12.4,637.5 17.4,639.1 18.6,639.1 21.7,626.7 26.1,625.4 31.1,622.3 34.8,623.2 37.3,622.3 42.3,622.3 46.6,627.3 50.3,624.4 54.1,624.2 58.4,621.7 62.1,622.3 67.1,615.5 74.6,600.3 82.6,600.3 86.4,606.2 90.1,608.3 94.4,605.3 98.2,612.4 101.9,611.5 106.9,613.6 110.6,614.5 114.3,614.5 118.1,625.4 122.4,632.6 124.9,632.6 129.9,630.2 136.7,630.2 141.7,629.4 146.6,633.3 150.3,628.2 154.7,634.1 158.4,636.2 162.2,626.6 165.9,625.4 169.6,626.2 174.6,630.3 178.3,629.5 182.0,626.6 186.4,629.5 190.7,627.0 195.1,622.0 198.8,620.0 202.5,613.3 206.3,615.4 214.3,607.3 218.1,610.1 222.4,607.6 226.8,610.4 230.5,609.5 234.5,613.6 238.0,608.6 241.7,609.6 246.4,606.3 250.4,613.6 254.1,612.3 257.8,610.2 262.2,611.3 265.9,608.8 270.3,604.5 274.6,607.3 281.5,606.3 285.8,612.6 290.2,610.2 294.0,611.3 298.2,614.2 302.6,611.3 306.3,612.6 310.0,610.1 314.4,602.4 318.1,602.6 322.4,599.6 326.2,602.1 330.5,604.6 334.3,603.4 339.0,605.5 341.7,604.2 346.1,603.4 351.0,597.4 357.9,600.5 362.2,610.1 366.6,608.3 374.3,612.6 382.1,599.9 386.4,599.6 390.8,604.6 395.1,603.4 397.6,602.6 401.4,601.7 405.1,599.9 409.4,600.5 414.4,596.2 417.5,595.2 421.2,595.9 426.2,601.4 430.6,597.4 434.9,600.5 438.0,598.4 442.3,606.1 446.7,608.0 450.4,610.4 454.2,611.7 457.9,610.4 462.9,609.2 466.6,604.6 470.3,610.1 474.0,612.1 479.0,616.7 486.5,622.3 490.4,619.5 493.9,621.6 498.9,628.5 501.4,627.5 510.1,627.5 513.8,625.4 518.8,628.2 522.5,619.5 526.2,624.1 530.6,619.5 533.7,620.0 537.4,621.6 541.1,619.5 546.1,616.7 550.5,616.3 554.2,621.0 558.5,623.2 562.3,626.2 566.0,632.8 569.7,634.7 574.1,620.4 582.8,620.4 589.6,618.3 594.6,618.3 598.9,613.3 602.6,615.4 607.0,621.6 610.7,620.4 613.8,621.6 618.2,613.3 622.5,616.3 626.3,618.3 630.0,616.3 634.3,616.3 638.7,621.6 642.4,630.0 646.1,632.2 649.9,630.0 654.2,628.2 658.6,630.7 666.0,621.3 669.7,627.5 674.7,632.2 678.4,632.8 682.8,635.3 689.6,635.3 695.2,629.7 698.3,628.5 702.1,627.5 706.4,624.5 710.8,625.4 714.5,624.5 718.2,625.4 721.9,627.2 725.7,625.4 730.0,625.4 734.3,627.2 738.1,624.7 742.4,623.2 746.2,619.8 749.9,631.9 754.9,632.4 757.3,626.6 761.1,621.6 766.7,615.4 770.4,616.3 774.1,614.5 777.8,615.4 781.6,616.3 786.5,616.3 790.6,624.5 794.6,623.5 797.7,622.5 801.5,621.3 807.0,624.5 810.8,625.4 815.1,627.5 818.2,626.6 821.3,627.0 826.7,631.2 830.7,625.4 834.4,630.3 837.5,629.5 842.5,629.5 846.2,627.5 850.5,628.5 854.3,627.2 856.8,632.2 861.7,638.8 866.3,643.5 870.1,644.6 874.8,639.2 878.6,641.4 882.4,639.2 886.2,641.4 890.0,642.6 894.6,639.2 898.4,640.5 903.0,639.2 906.4,638.4 910.6,627.4 913.2,628.5 921.6,628.5" fill="none" stroke="#1e90ff" stroke-width="1" shape-rendering="crispEdges"/>
<text class="t lb" x="6" y="585">RSI(14) 36.3052</text>
<text class="t ax" x="1168" y="582.5">100</text>
<text class="t ax" x="1168" y="602.5">70</text>
<text class="t ax" x="1168" y="636.5">30</text>
<text class="t ax" x="1168" y="655">0</text>
<g shape-rendering="crispEdges">
<rect x="1165" y="574" width="2" height="1" fill="#000"/>
<rect x="1165" y="599" width="2" height="1" fill="#000"/>
<rect x="1165" y="633" width="2" height="1" fill="#000"/>
<rect x="1165" y="658" width="2" height="1" fill="#000"/>
</g>
<g shape-rendering="crispEdges"><rect x="1" y="24" width="1" height="461" fill="#000"/><rect x="1" y="486" width="1" height="85" fill="#000"/><rect x="1" y="572" width="1" height="88" fill="#000"/></g>
<g shape-rendering="crispEdges">
<rect x="2" y="660" width="1" height="3" fill="#000"/>
<rect x="66" y="660" width="1" height="3" fill="#000"/>
<rect x="130" y="660" width="1" height="3" fill="#000"/>
<rect x="194" y="660" width="1" height="3" fill="#000"/>
<rect x="258" y="660" width="1" height="3" fill="#000"/>
<rect x="322" y="660" width="1" height="3" fill="#000"/>
<rect x="386" y="660" width="1" height="3" fill="#000"/>
<rect x="450" y="660" width="1" height="3" fill="#000"/>
<rect x="514" y="660" width="1" height="3" fill="#000"/>
<rect x="578" y="660" width="1" height="3" fill="#000"/>
<rect x="642" y="660" width="1" height="3" fill="#000"/>
<rect x="706" y="660" width="1" height="3" fill="#000"/>
<rect x="770" y="660" width="1" height="3" fill="#000"/>
<rect x="834" y="660" width="1" height="3" fill="#000"/>
<rect x="898" y="660" width="1" height="3" fill="#000"/>
</g>
<text class="t tm" x="1.5" y="672">10 Aug 2021</text>
<text class="t tm" x="65.5" y="672">13 Aug 14:00</text>
<text class="t tm" x="129.5" y="672">18 Aug 04:00</text>
<text class="t tm" x="193.5" y="672">20 Aug 22:00</text>
<text class="t tm" x="257.5" y="672">25 Aug 14:00</text>
<text class="t tm" x="321.5" y="672">30 Aug 07:00</text>
<text class="t tm" x="385.5" y="672">1 Sep 22:00</text>
<text class="t tm" x="449.5" y="672">6 Sep 15:00</text>
<text class="t tm" x="513.5" y="672">9 Sep 04:00</text>
<text class="t tm" x="577.5" y="672">13 Sep 23:00</text>
<text class="t tm" x="641.5" y="672">16 Sep 14:00</text>
<text class="t tm" x="705.5" y="672">21 Sep 04:00</text>
<text class="t tm" x="769.5" y="672">23 Sep 22:00</text>
<text class="t tm" x="833.5" y="672">28 Sep 14:00</text>
<text class="t tm" x="897.5" y="672">1 Oct 04:00</text>
<g shape-rendering="crispEdges">
<rect x="0" y="680" width="1207" height="1" fill="#e3e3e3"/>
<rect x="0" y="681" width="1207" height="25" fill="#f0f0f0"/>
<rect x="0" y="681" width="1207" height="1" fill="#fff"/>
<rect x="94" y="682" width="1113" height="1" fill="#000"/>
<rect x="96" y="683" width="1111" height="1" fill="#fbfbfb"/>
<rect x="0" y="682" width="4" height="1" fill="#000"/>
<rect x="3" y="682" width="92" height="19" fill="#000"/>
<rect x="4" y="681" width="90" height="19" fill="#fff"/>
<rect x="2" y="683" width="1" height="17" fill="#fafafa"/>
<rect x="95" y="683" width="1" height="18" fill="#c8c8c8"/>
<rect x="4" y="701" width="92" height="1" fill="#c8c8c8"/>
<rect x="0" y="702" width="1207" height="1" fill="#fbfbfb"/>
<rect x="0" y="705" width="1207" height="1" fill="#dcdcdc"/>
<rect x="0" y="706" width="1207" height="1" fill="#a0a0a0"/>
<rect x="0" y="707" width="1207" height="4" fill="#fefefe"/>
<rect x="108" y="707" width="1" height="4" fill="#dcdcdc"/>
<rect x="192" y="707" width="1" height="4" fill="#dcdcdc"/>
<rect x="300" y="707" width="1" height="4" fill="#dcdcdc"/>
<rect x="420" y="707" width="1" height="4" fill="#dcdcdc"/>
<rect x="541" y="707" width="1" height="4" fill="#dcdcdc"/>
<rect x="660" y="707" width="1" height="4" fill="#dcdcdc"/>
<rect x="780" y="707" width="1" height="4" fill="#dcdcdc"/>
<rect x="900" y="707" width="1" height="4" fill="#dcdcdc"/>
<rect x="1020" y="707" width="1" height="4" fill="#dcdcdc"/>
<rect x="199" y="685" width="1" height="14" fill="#606060"/>
<rect x="287" y="685" width="1" height="14" fill="#606060"/>
<rect x="391" y="685" width="1" height="14" fill="#606060"/>
<rect x="495" y="685" width="1" height="14" fill="#606060"/>
<rect x="583" y="685" width="1" height="14" fill="#606060"/>
<rect x="652" y="685" width="1" height="14" fill="#606060"/>
<rect x="727" y="685" width="1" height="14" fill="#606060"/>
<rect x="819" y="685" width="1" height="14" fill="#606060"/>
<rect x="912" y="685" width="1" height="14" fill="#606060"/>
</g>
<text x="15.4" y="697" style="font-family:'Liberation Sans', sans-serif;font-size:12px;letter-spacing:-0.2px;fill:#000">EURUSD,H4</text>
<text x="106.5" y="697" style="font-family:'Liberation Sans', sans-serif;font-size:12px;fill:#6d6d6d">AUDUSD,Daily</text>
<text x="209.5" y="697" style="font-family:'Liberation Sans', sans-serif;font-size:12px;fill:#6d6d6d">USDCHF,H4</text>
<text x="298" y="697" style="font-family:'Liberation Sans', sans-serif;font-size:12px;fill:#6d6d6d">USDCAD,Daily</text>
<text x="401.5" y="697" style="font-family:'Liberation Sans', sans-serif;font-size:12px;fill:#6d6d6d">USDCNH,Daily</text>
<text x="507" y="697" style="font-family:'Liberation Sans', sans-serif;font-size:12px;fill:#6d6d6d">UKOil,Daily</text>
<text x="593.3" y="697" style="font-family:'Liberation Sans', sans-serif;font-size:12px;fill:#6d6d6d">DJ30,H1</text>
<text x="663.5" y="697" style="font-family:'Liberation Sans', sans-serif;font-size:12px;fill:#6d6d6d">USDX,H1</text>
<text x="738.3" y="697" style="font-family:'Liberation Sans', sans-serif;font-size:12px;fill:#6d6d6d">XAUUSD,H4</text>
<text x="831.3" y="697" style="font-family:'Liberation Sans', sans-serif;font-size:12px;fill:#6d6d6d">GBPUSD,H1</text>
<polygon points="1183.5,687.5 1179.5,691 1183.5,694.5" fill="#a0a0a0"/>
<polygon points="1199,687.5 1203,691 1199,694.5" fill="#a0a0a0"/>
</svg></body></html>
